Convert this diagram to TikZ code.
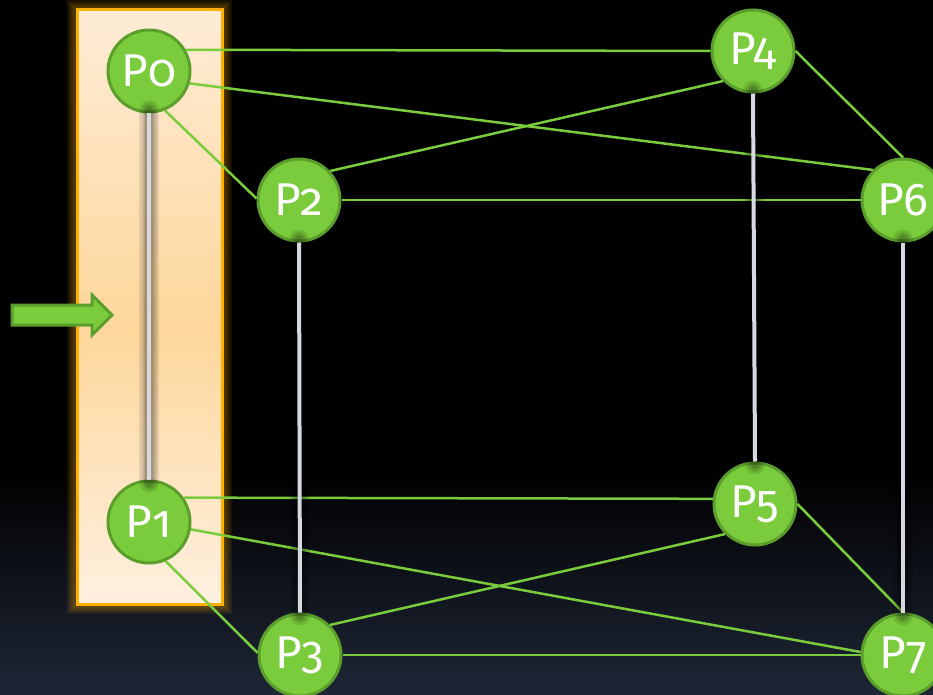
\documentclass[tikz,border=0pt]{standalone}
\usepackage{fontspec}
\setmainfont{Fira Sans}[Numbers=OldStyle]
\usepackage{xcolor}
\definecolor{node-green}{RGB}{122,204,60}
\definecolor{node-rim}{RGB}{92,158,44}
\definecolor{rail-gray}{RGB}{214,218,224}
\definecolor{box-orange}{RGB}{255,176,0}
\definecolor{box-top}{RGB}{254,236,214}
\definecolor{box-mid}{RGB}{253,215,155}
\definecolor{box-bottom}{RGB}{255,240,224}
\definecolor{sky-navy}{RGB}{30,38,54}

\begin{document}
\begin{tikzpicture}[x=1pt, y=-1pt,
  pnode/.style={circle, fill=node-green, draw=node-rim, line width=3pt,
    minimum size=82pt, inner sep=0pt, text=white, font=\fontsize{46}{46}\selectfont},
  link/.style={node-green, line width=2.5pt},
  rail/.style={rail-gray, line width=4pt},
  railshade/.style={black, line width=#1, opacity=0.1, line cap=round,
    shorten <=-3pt, shorten >=-3pt}]
  \useasboundingbox (0,0) rectangle (933,695);

  % backdrop
  \fill[black] (0,0) rectangle (933,695);
  \shade[top color=black, bottom color=sky-navy] (0,470) rectangle (933,695);

  % highlighted column
  \foreach \w in {20,16,12,8}
    \draw[box-orange, opacity=0.09, line width=\w pt] (77,10) rectangle (222,604);
  \shade[top color=box-top, bottom color=box-mid] (77,10) rectangle (222,330);
  \shade[top color=box-mid, bottom color=box-bottom] (77,329) rectangle (222,604);
  \draw[box-orange, line width=3pt] (77,10) rectangle (222,604);

  % arrow into the column
  \draw[fill=node-green, draw=node-rim, line width=3pt, line join=miter]
    (12,305) -- (92,305) -- (92,295) -- (112,315) -- (92,335) -- (92,325) -- (12,325) -- cycle;

  % processes
  \node[pnode] (P0) at (149,71) {P0};
  \node[pnode] (P1) at (149,522) {P1};
  \node[pnode] (P2) at (299,200) {P2};
  \node[pnode] (P3) at (300,655) {P3};
  \node[pnode] (P4) at (753,51) {P4};
  \node[pnode] (P5) at (755,504) {P5};
  \node[pnode] (P6) at (903,200) {P6};
  \node[pnode] (P7) at (903,655) {P7};

  % green links
  \draw[link] (P0.30) -- (P4.west);
  \draw[link] (P0.-17) -- (P6.135);
  \draw[link] (P0.-68) -- (P2.178);
  \draw[link] (P2.43) -- (P4.225);
  \draw[link] (P2.east) -- (P6.west);
  \draw[link] (P4.east) -- (P6.north);
  \draw[link] (P1.35) -- (P5.173);
  \draw[link] (P1.-10) -- (P7.176);
  \draw[link] (P1.-67) -- (P3.177);
  \draw[link] (P3.45) -- (P5.225);
  \draw[link] (P3.east) -- (P7.west);
  \draw[link] (P5.east) -- (P7.north);

  % vertical rails
  \foreach \a/\b in {P0/P1, P2/P3, P4/P5, P6/P7} {
    \foreach \w in {20,15,11,8}
      \draw[railshade=\w pt] (\a.south) -- (\b.north);
    \draw[rail] (\a.south) -- (\b.north);
  }
\end{tikzpicture}
\end{document}
